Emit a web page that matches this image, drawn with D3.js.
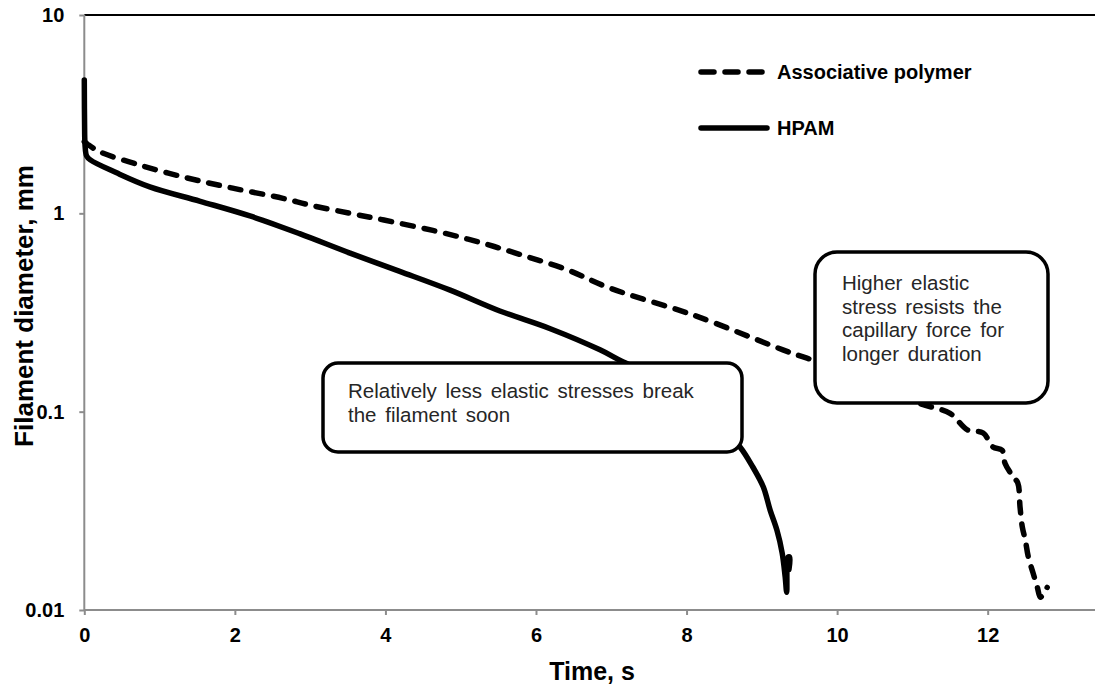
<!DOCTYPE html>
<html>
<head>
<meta charset="utf-8">
<script src="https://cdn.jsdelivr.net/npm/d3@7"></script>
<style>
  body { margin: 0; background: #fff; }
  svg { display: block; font-family: "Liberation Sans", Arial, sans-serif; }
</style>
</head>
<body>
<div id="chart"></div>
<script>
// values
var assocTime = [0, 0.05, 0.21, 0.74, 1.36, 1.97, 2.64, 3.0, 3.53, 3.98, 4.63, 5.22, 5.79, 6.41, 6.98, 8.09, 9.28, 9.6, 10.2, 10.6, 11.1, 11.5, 11.73, 11.94, 12.07, 12.19, 12.23, 12.34, 12.40, 12.43, 12.46, 12.50, 12.54, 12.60, 12.66, 12.70, 12.79];
var assocDiam = [2.3, 2.22, 2.04, 1.75, 1.51, 1.34, 1.19, 1.10, 1.00, 0.925, 0.82, 0.72, 0.62, 0.52, 0.42, 0.307, 0.205, 0.186, 0.16, 0.135, 0.110, 0.098, 0.081, 0.078, 0.0664, 0.064, 0.055, 0.0468, 0.0437, 0.033, 0.0262, 0.0225, 0.0185, 0.0155, 0.0130, 0.0116, 0.0130];

var hpamTime = [0, 0.005, 0.01, 0.03, 0.08, 0.43, 0.87, 1.54, 2.2, 2.86, 3.53, 4.19, 4.86, 5.52, 6.19, 6.85, 7.16, 7.6, 8.0, 8.4, 8.71, 8.88, 9.02, 9.11, 9.20, 9.27, 9.31, 9.33, 9.35, 9.37, 9.36];
var hpamDiam = [4.7, 2.5, 2.2, 1.95, 1.86, 1.60, 1.36, 1.15, 0.97, 0.79, 0.63, 0.51, 0.41, 0.322, 0.262, 0.205, 0.178, 0.15, 0.12, 0.088, 0.0664, 0.0526, 0.0417, 0.0319, 0.0253, 0.0194, 0.0147, 0.0123, 0.0185, 0.0185, 0.016];

var xTicks = [0, 2, 4, 6, 8, 10, 12];
var yTicks = [0.01, 0.1, 1, 10];
var seriesNames = ["Associative polymer", "HPAM"];
var note1 = ["Relatively less elastic stresses break", "the filament soon"];
var note2 = ["Higher elastic", "stress resists the", "capillary force for", "longer duration"];

var width = 1095, height = 687;

var svg = d3.select("#chart").append("svg")
    .attr("width", width)
    .attr("height", height);

var x = d3.scaleLinear().domain([0, 13.5]).range([84.3, 1100.6]);
var y = d3.scaleLog().domain([0.01, 10]).range([610, 15]);

// top border (black)
svg.append("line")
    .attr("x1", x(0)).attr("x2", width)
    .attr("y1", y(10)).attr("y2", y(10))
    .attr("stroke", "#000")
    .attr("stroke-width", 2);

var xAxis = svg.append("g")
    .attr("transform", "translate(0," + y(0.01) + ")")
    .call(d3.axisBottom(x).tickValues(xTicks).tickSize(5).tickSizeOuter(0).tickPadding(13).tickFormat(d3.format("d")));

var yAxis = svg.append("g")
    .attr("transform", "translate(" + x(0) + ",0)")
    .call(d3.axisLeft(y).tickValues(yTicks).tickSize(5).tickSizeOuter(0).tickPadding(15).tickFormat(d => String(d)));

[xAxis, yAxis].forEach(function(a) {
    a.select(".domain").attr("stroke", "#8c8c8c").attr("stroke-width", 2);
    a.selectAll(".tick line").attr("stroke", "#8c8c8c").attr("stroke-width", 2);
    a.selectAll(".tick text")
        .attr("fill", "#000")
        .style("font-size", "20px")
        .style("font-weight", "bold")
        .style("font-family", "'Liberation Sans', Arial, sans-serif");
});
xAxis.select(".domain").attr("d", "M" + x(0) + ",0H" + width);
yAxis.select(".domain").attr("d", "M0," + y(10) + "V" + y(0.01));

// axis titles
svg.append("text")
    .attr("x", 592).attr("y", 680)
    .attr("text-anchor", "middle")
    .style("font-size", "25px").style("font-weight", "bold")
    .text("Time, s");

svg.append("text")
    .attr("transform", "translate(33,306) rotate(-90)")
    .attr("text-anchor", "middle")
    .style("font-size", "26px").style("font-weight", "bold")
    .text("Filament diameter, mm");

// curves
var line = d3.line()
    .x(d => x(d[0]))
    .y(d => y(d[1]))
    .curve(d3.curveCatmullRom.alpha(0.5));

var assoc = assocTime.map((t, i) => [t, assocDiam[i]]);
var hpam = hpamTime.map((t, i) => [t, hpamDiam[i]]);

svg.append("path")
    .datum(hpam)
    .attr("d", line)
    .attr("fill", "none")
    .attr("stroke", "#000")
    .attr("stroke-width", 5.5)
    .attr("stroke-linejoin", "round")
    .attr("stroke-linecap", "round");

svg.append("path")
    .datum(assoc)
    .attr("d", line)
    .attr("fill", "none")
    .attr("stroke", "#000")
    .attr("stroke-width", 5.5)
    .attr("stroke-dasharray", "11,11")
    .attr("stroke-linejoin", "round")
    .attr("stroke-linecap", "round");

// legend
var legend = svg.append("g");
legend.selectAll("line")
    .data(seriesNames)
    .enter()
    .append("line")
    .attr("x1", 701).attr("x2", 767)
    .attr("y1", (d, i) => 72 + i * 56)
    .attr("y2", (d, i) => 72 + i * 56)
    .attr("stroke", "#000")
    .attr("stroke-width", 5.5)
    .attr("stroke-linecap", "round")
    .attr("stroke-dasharray", (d, i) => i === 0 ? "13,11" : null);
legend.selectAll("text")
    .data(seriesNames)
    .enter()
    .append("text")
    .attr("x", 777)
    .attr("y", (d, i) => 72 + i * 56)
    .attr("dy", "0.36em")
    .style("font-size", "20px").style("font-weight", "bold")
    .text(d => d);

// annotation boxes
function callout(x0, y0, w, h, r, lines, tx, ty, lh) {
    var g = svg.append("g");
    g.append("rect")
        .attr("x", x0).attr("y", y0)
        .attr("width", w).attr("height", h)
        .attr("rx", r).attr("ry", r)
        .attr("fill", "#fff")
        .attr("stroke", "#000")
        .attr("stroke-width", 3.5);
    g.selectAll("text")
        .data(lines)
        .enter()
        .append("text")
        .attr("x", tx)
        .attr("y", (d, i) => ty + i * lh)
        .attr("fill", "#262626")
        .style("font-size", "20.5px")
        .style("word-spacing", "3px")
        .text(d => d);
}

callout(323, 363, 419, 89, 15, note1, 348, 398, 24);
callout(815, 252, 233, 151, 22, note2, 842, 290, 23.5);
</script>
</body>
</html>
